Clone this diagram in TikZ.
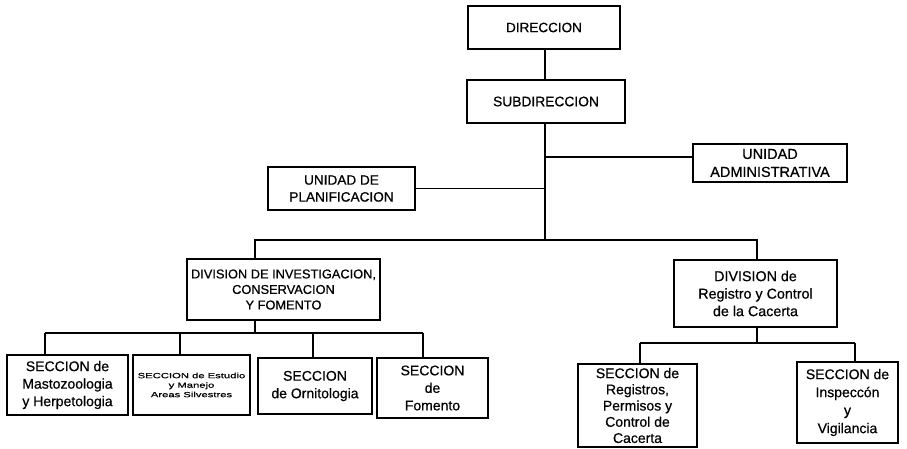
\documentclass[tikz,border=0pt]{standalone}
\usepackage{fontspec}
\setmainfont{Liberation Sans}[FakeBold=0.6]
\newfontfamily\widefont{Liberation Sans}[FakeStretch=1.5,FakeBold=0.6]
\tikzset{
  box/.style={draw, line width=1.1pt, rectangle, inner sep=0pt, align=center, font=\fontsize{14}{17.5}\selectfont},
  conn/.style={line width=1.1pt},
}
\begin{document}
\begin{tikzpicture}[x=1pt,y=-1pt]
\useasboundingbox (0,0) rectangle (907,448);
\clip (0,0) rectangle (907,448);
% boxes
\node[box, minimum width=152pt, minimum height=43pt, font=\fontsize{13.5}{17}\selectfont] (dir) at (544,27.5) {DIRECCION};
\node[box, minimum width=158pt, minimum height=43pt, font=\fontsize{13.8}{17}\selectfont] (sub) at (546,101.5) {SUBDIRECCION};
\node[box, minimum width=154pt, minimum height=38pt, font=\fontsize{14.5}{18}\selectfont] (adm) at (770,163) {UNIDAD\\ADMINISTRATIVA};
\node[box, minimum width=147pt, minimum height=43pt, font=\fontsize{13.6}{17}\selectfont] (plan) at (341.5,188.5) {UNIDAD DE\\PLANIFICACION};
\node[box, minimum width=193pt, minimum height=61pt, font=\fontsize{12.8}{15.5}\selectfont] (dinv) at (283.5,289.5) {DIVISION DE INVESTIGACION,\\CONSERVACION\\Y FOMENTO};
\node[box, minimum width=163pt, minimum height=67pt, font=\fontsize{14.3}{17.5}\selectfont] (dreg) at (755.5,293.5) {DIVISION de\\Registro y Control\\de la Cacerta};
\node[box, minimum width=121pt, minimum height=60pt] (s1) at (67.5,385) {SECCION de\\Mastozoologia\\y Herpetologia};
\node[box, minimum width=117pt, minimum height=60pt, font=\widefont\fontsize{7.5}{9.5}\selectfont] (s2) at (191.5,385) {SECCION de Estudio\\y Manejo\\Areas Silvestres};
\node[box, minimum width=114pt, minimum height=56pt] (s3) at (315,386) {SECCION\\de Ornitologia};
\node[box, minimum width=111pt, minimum height=60pt] (s4) at (432.5,388) {SECCION\\de\\Fomento};
\node[box, minimum width=119pt, minimum height=83pt, font=\fontsize{14}{16.2}\selectfont] (s5) at (637.5,405.5) {SECCION de\\Registros,\\Permisos y\\Control de\\Cacerta};
\node[box, minimum width=101pt, minimum height=81pt, font=\fontsize{14}{18}\selectfont] (s6) at (847.5,402.5) {SECCION de\\Inspeccón\\y\\Vigilancia};
% junction points
\coordinate (jA) at (545,157);
\coordinate (jP) at (545,189);
\coordinate (jB) at (545,240);
\coordinate (bL) at (255,240);
\coordinate (bR) at (757,240);
\coordinate (cM) at (255,333);
\coordinate (c1) at (45,333);
\coordinate (c2) at (180,333);
\coordinate (c3) at (313,333);
\coordinate (c4) at (423,333);
\coordinate (dM) at (757,343);
\coordinate (d1) at (640,343);
\coordinate (d2) at (855,343);
% connectors
\draw[conn] (dir.south -| jA) -- (sub.north -| jA);
\draw[conn] (sub.south -| jB) -- (jB);
\draw[conn] (jA) -- (jA -| adm.west);
\draw[conn] (plan.east) -- (plan.east -| jP);
\draw[conn] (dinv.north -| bL) -- (bL) -- (bR) -- (dreg.north -| bR);
\draw[conn] (dinv.south -| cM) -- (cM);
\draw[conn] (c1) -- (c4);
\draw[conn] (c1) -- (c1 |- s1.north);
\draw[conn] (c2) -- (c2 |- s2.north);
\draw[conn] (c3) -- (c3 |- s3.north);
\draw[conn] (c4) -- (c4 |- s4.north);
\draw[conn] (dreg.south -| dM) -- (dM);
\draw[conn] (d1) -- (d2);
\draw[conn] (d1) -- (d1 |- s5.north);
\draw[conn] (d2) -- (d2 |- s6.north);
\end{tikzpicture}
\end{document}
